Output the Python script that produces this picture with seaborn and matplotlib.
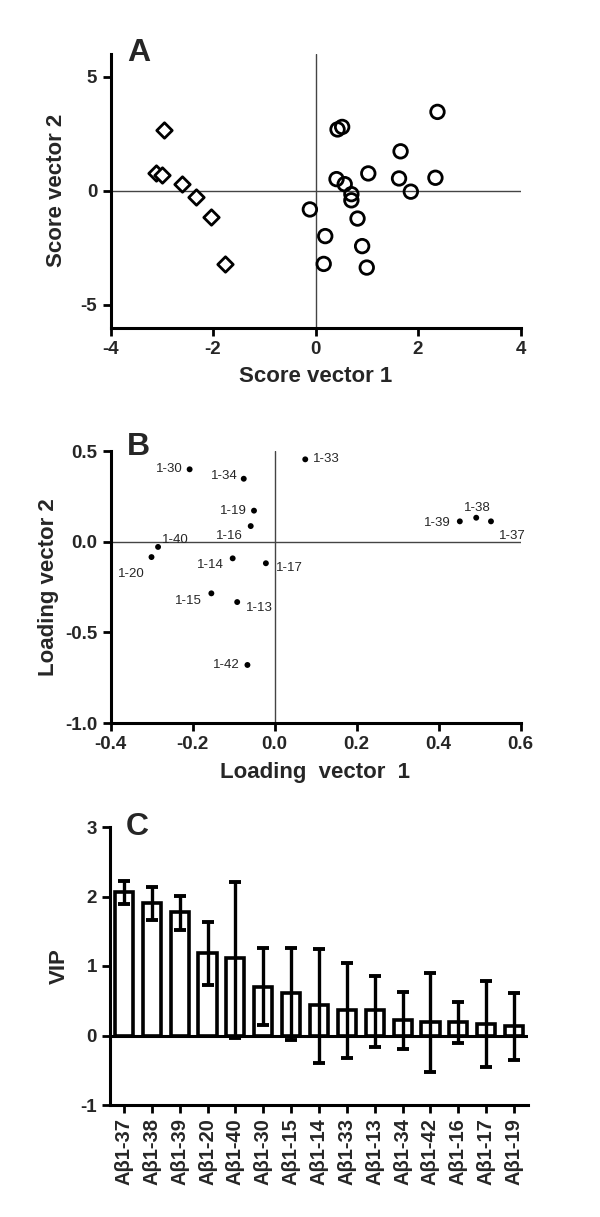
import numpy as np
import pandas as pd
import seaborn as sns
import matplotlib.pyplot as plt

# ---------------- data ----------------
# A: score plot (two groups)
diamond_x = [-2.96, -3.12, -2.99, -2.61, -2.34, -2.04, -1.77]
diamond_y = [2.66, 0.79, 0.69, 0.29, -0.26, -1.14, -3.21]
circle_x = [2.38, 0.43, 0.52, 1.66, 0.41, 0.57, 1.03, 1.63, 2.34,
            1.86, 0.70, 0.70, -0.11, 0.82, 0.19, 0.91, 0.16, 1.00]
circle_y = [3.46, 2.69, 2.80, 1.73, 0.51, 0.29, 0.76, 0.54, 0.57,
            -0.04, -0.15, -0.42, -0.82, -1.22, -1.99, -2.43, -3.21, -3.37]

# B: loading plot
load_names = ["1-33", "1-30", "1-34", "1-19", "1-16", "1-40", "1-20", "1-14",
              "1-17", "1-15", "1-13", "1-42", "1-39", "1-38", "1-37"]
load_x = [0.075, -0.207, -0.075, -0.050, -0.058, -0.284, -0.300, -0.102,
          -0.021, -0.154, -0.091, -0.066, 0.452, 0.492, 0.528]
load_y = [0.454, 0.399, 0.347, 0.171, 0.086, -0.029, -0.085, -0.092,
          -0.119, -0.285, -0.333, -0.680, 0.112, 0.132, 0.112]
# label offsets (pixels) relative to each dot
label_dx = [8, -7, -6, -7, -8, 4, -7, -9, 10, -10, 9, -8, -9, 1, 8]
label_dy = [0, 0, 3, 0, -10, 7, -17, -7, -5, -8, -6, 0, -2, 10, -15]

# C: VIP bars
vip_names = ["Aβ1-37", "Aβ1-38", "Aβ1-39", "Aβ1-20", "Aβ1-40", "Aβ1-30", "Aβ1-15",
             "Aβ1-14", "Aβ1-33", "Aβ1-13", "Aβ1-34", "Aβ1-42", "Aβ1-16", "Aβ1-17",
             "Aβ1-19"]
vip = [2.07, 1.91, 1.78, 1.19, 1.11, 0.70, 0.61, 0.44, 0.37, 0.36, 0.23, 0.20,
       0.19, 0.17, 0.13]
vip_hi = [2.23, 2.13, 2.01, 1.63, 2.21, 1.26, 1.26, 1.24, 1.05, 0.86, 0.63, 0.90,
          0.48, 0.78, 0.61]
vip_lo = [1.89, 1.66, 1.52, 0.72, -0.03, 0.15, -0.07, -0.39, -0.32, -0.17, -0.19,
          -0.52, -0.11, -0.46, -0.35]

# ---------------- style ----------------
sns.set_style("ticks")
plt.rcParams["font.family"] = ["Liberation Sans", "DejaVu Sans"]
plt.rcParams["font.weight"] = "bold"
plt.rcParams["axes.labelweight"] = "bold"
plt.rcParams["axes.unicode_minus"] = False

W, H = 600, 1217
fig = plt.figure(figsize=(W / 100, H / 100), dpi=100)


def frame(left, right, top, bottom):
    return fig.add_axes([left / W, 1 - bottom / H, (right - left) / W, (bottom - top) / H])


def style(ax):
    sns.despine(ax=ax)
    for s in ["left", "bottom"]:
        ax.spines[s].set_linewidth(2.2)
        ax.spines[s].set_color("black")
    ax.tick_params(width=2.0, length=6, labelsize=13.5, color="black")
    for t in ax.get_xticklabels() + ax.get_yticklabels():
        t.set_fontweight("bold")


# ---------------- A ----------------
axA = frame(110.5, 520.5, 54, 327.5)
axA.axhline(0, color="#444444", lw=1.0, zorder=1)
axA.axvline(0, color="#444444", lw=1.0, zorder=1)
sns.scatterplot(x=diamond_x, y=diamond_y, marker="D", s=62, facecolor="white",
                edgecolor="black", linewidth=2.0, ax=axA, zorder=3)
sns.scatterplot(x=circle_x, y=circle_y, marker="o", s=95, facecolor="none",
                edgecolor="black", linewidth=2.0, ax=axA, zorder=3)
axA.set_xlim(-4, 4)
axA.set_ylim(-6, 6)
axA.set_xticks([-4, -2, 0, 2, 4])
axA.set_yticks([-5, 0, 5])
axA.set_xlabel("Score vector 1", fontsize=16)
axA.set_ylabel("Score vector 2", fontsize=16)
axA.xaxis.set_label_coords(0.5, -0.14)
axA.yaxis.set_label_coords(-0.105, 0.5)
style(axA)
axA.text(0.04, 0.975, "A", transform=axA.transAxes, fontsize=23, fontweight="bold",
         va="baseline")

# ---------------- B ----------------
axB = frame(110.5, 520.5, 451, 723)
axB.axhline(0, color="#444444", lw=1.0, zorder=1)
axB.axvline(0, color="#444444", lw=1.0, zorder=1)
sns.scatterplot(x=load_x, y=load_y, color="black", s=18, edgecolor="none",
                ax=axB, zorder=3)
for name, x, y, dx, dy in zip(load_names, load_x, load_y, label_dx, label_dy):
    ha = "left" if dx > 3 else ("right" if dx < -3 else "center")
    axB.annotate(name, (x, y), xytext=(dx, dy), textcoords="offset pixels",
                 ha=ha, va="center", fontsize=9.5, fontweight="normal")
axB.set_xlim(-0.4, 0.6)
axB.set_ylim(-1.0, 0.5)
axB.set_xticks([-0.4, -0.2, 0.0, 0.2, 0.4, 0.6])
axB.set_yticks([-1.0, -0.5, 0.0, 0.5])
axB.xaxis.set_major_formatter(plt.FormatStrFormatter("%.1f"))
axB.yaxis.set_major_formatter(plt.FormatStrFormatter("%.1f"))
axB.set_xlabel("Loading  vector  1", fontsize=16)
axB.set_ylabel("Loading vector 2", fontsize=16)
axB.xaxis.set_label_coords(0.5, -0.145)
axB.yaxis.set_label_coords(-0.125, 0.5)
style(axB)
axB.text(0.04, 0.985, "B", transform=axB.transAxes, fontsize=23, fontweight="bold",
         va="baseline")

# ---------------- C ----------------
axC = frame(110, 528, 827, 1105)
sns.barplot(x=vip_names, y=vip, color="white", edgecolor="black", linewidth=2.6,
            width=0.65, errorbar=None, ax=axC, zorder=2)
vip_a = np.array(vip)
yerr = [vip_a - np.array(vip_lo), np.array(vip_hi) - vip_a]
axC.errorbar(np.arange(len(vip)), vip_a, yerr=yerr, fmt="none", ecolor="black",
             elinewidth=2.4, capsize=4.5, capthick=2.8, zorder=3)
axC.axhline(0, color="black", lw=2.2, zorder=4)
axC.set_xlim(-0.5, len(vip) - 0.5)
axC.set_ylim(-1, 3)
axC.set_yticks([-1, 0, 1, 2, 3])
axC.set_ylabel("VIP", fontsize=16)
axC.yaxis.set_label_coords(-0.095, 0.5)
style(axC)
axC.tick_params(axis="x", rotation=90, labelsize=14.5)
for t in axC.get_xticklabels():
    t.set_fontweight("bold")
axC.text(0.038, 0.971, "C", transform=axC.transAxes, fontsize=23, fontweight="bold",
         va="baseline")

fig.savefig("out.png", dpi=100)
